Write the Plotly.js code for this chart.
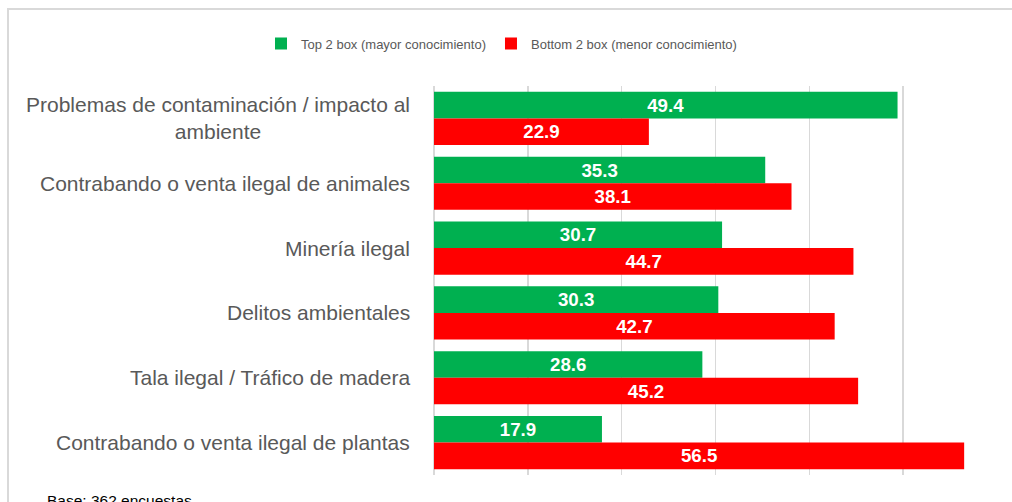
<!DOCTYPE html>
<html>
<head>
<meta charset="utf-8">
<script src="https://cdn.plot.ly/plotly-3.0.1.min.js"></script>
<style>
html,body{margin:0;padding:0;background:#fff;}
#chart{width:1012px;height:502px;}
</style>
</head>
<body>
<div id="chart"></div>
<script>
const categories = [
  "Problemas de contaminación / impacto al<br>ambiente",
  "Contrabando o venta ilegal de animales",
  "Minería ilegal",
  "Delitos ambientales",
  "Tala ilegal / Tráfico de madera",
  "Contrabando o venta ilegal de plantas"
];
const top2 = [49.4, 35.3, 30.7, 30.3, 28.6, 17.9];
const bottom2 = [22.9, 38.1, 44.7, 42.7, 45.2, 56.5];
const seriesNames = ["Top 2 box (mayor conocimiento)", "Bottom 2 box (menor conocimiento)"];
const footer = "Base: 362 encuestas";

const FONT = "Liberation Sans, Arial, sans-serif";
const ids = categories.map((c, i) => "c" + i);

function barTrace(vals, name, color) {
  return {
    type: "bar", orientation: "h",
    y: ids, x: vals, name: name,
    marker: {color: color},
    text: vals.map(v => v.toFixed(1)),
    textposition: "inside",
    insidetextanchor: "middle",
    textangle: 0,
    textfont: {family: FONT, size: 20, color: "#ffffff", weight: "bold"},
    hoverinfo: "x+name",
    cliponaxis: false
  };
}

const data = [
  barTrace(top2, seriesNames[0], "#00b050"),
  barTrace(bottom2, seriesNames[1], "#ff0000")
];

const annotations = categories.map((c, i) => ({
  xref: "paper", yref: "y", x: 0, y: ids[i],
  xanchor: "right", yanchor: "middle", xshift: -22,
  text: c, align: "center", showarrow: false,
  font: {family: FONT, size: 21, color: "#595959"}
}));
annotations.push({
  xref: "paper", yref: "paper", x: (46 - 434) / 563, y: (475 - 491) / 389,
  xanchor: "left", yanchor: "top",
  text: footer, showarrow: false, borderpad: 0,
  font: {family: FONT, size: 15.5, color: "#000000"}
});

const layout = {
  width: 1012, height: 502,
  margin: {l: 434, r: 15, t: 86, b: 27},
  paper_bgcolor: "#ffffff", plot_bgcolor: "#ffffff",
  font: {family: FONT, color: "#595959"},
  barmode: "group", bargap: 0.18, bargroupgap: 0,
  xaxis: {
    range: [0, 60], dtick: 10, tick0: 0,
    showticklabels: false, ticks: "",
    showgrid: true, gridcolor: "#d9d9d9", gridwidth: 1.5,
    zeroline: true, zerolinecolor: "#d9d9d9", zerolinewidth: 1.5,
    showline: false, fixedrange: true
  },
  yaxis: {
    autorange: "reversed", type: "category",
    showticklabels: false, ticks: "", showgrid: false,
    zeroline: false, showline: false, fixedrange: true
  },
  showlegend: true,
  legend: {
    orientation: "h", xref: "container", yref: "container",
    x: 261 / 1012, xanchor: "left", y: 1 - 43.5 / 502, yanchor: "middle",
    font: {family: FONT, size: 13, color: "#595959"},
    traceorder: "normal", bgcolor: "rgba(0,0,0,0)"
  },
  shapes: [{
    type: "rect", xref: "paper", yref: "paper", layer: "below",
    x0: (8 - 434) / 563, x1: 1.1, y0: -0.2, y1: (475 - 9) / 389,
    line: {color: "#d9d9d9", width: 2}, fillcolor: "rgba(0,0,0,0)"
  }],
  annotations: annotations
};

Plotly.newPlot("chart", data, layout, {displayModeBar: false, staticPlot: true});
</script>
</body>
</html>
